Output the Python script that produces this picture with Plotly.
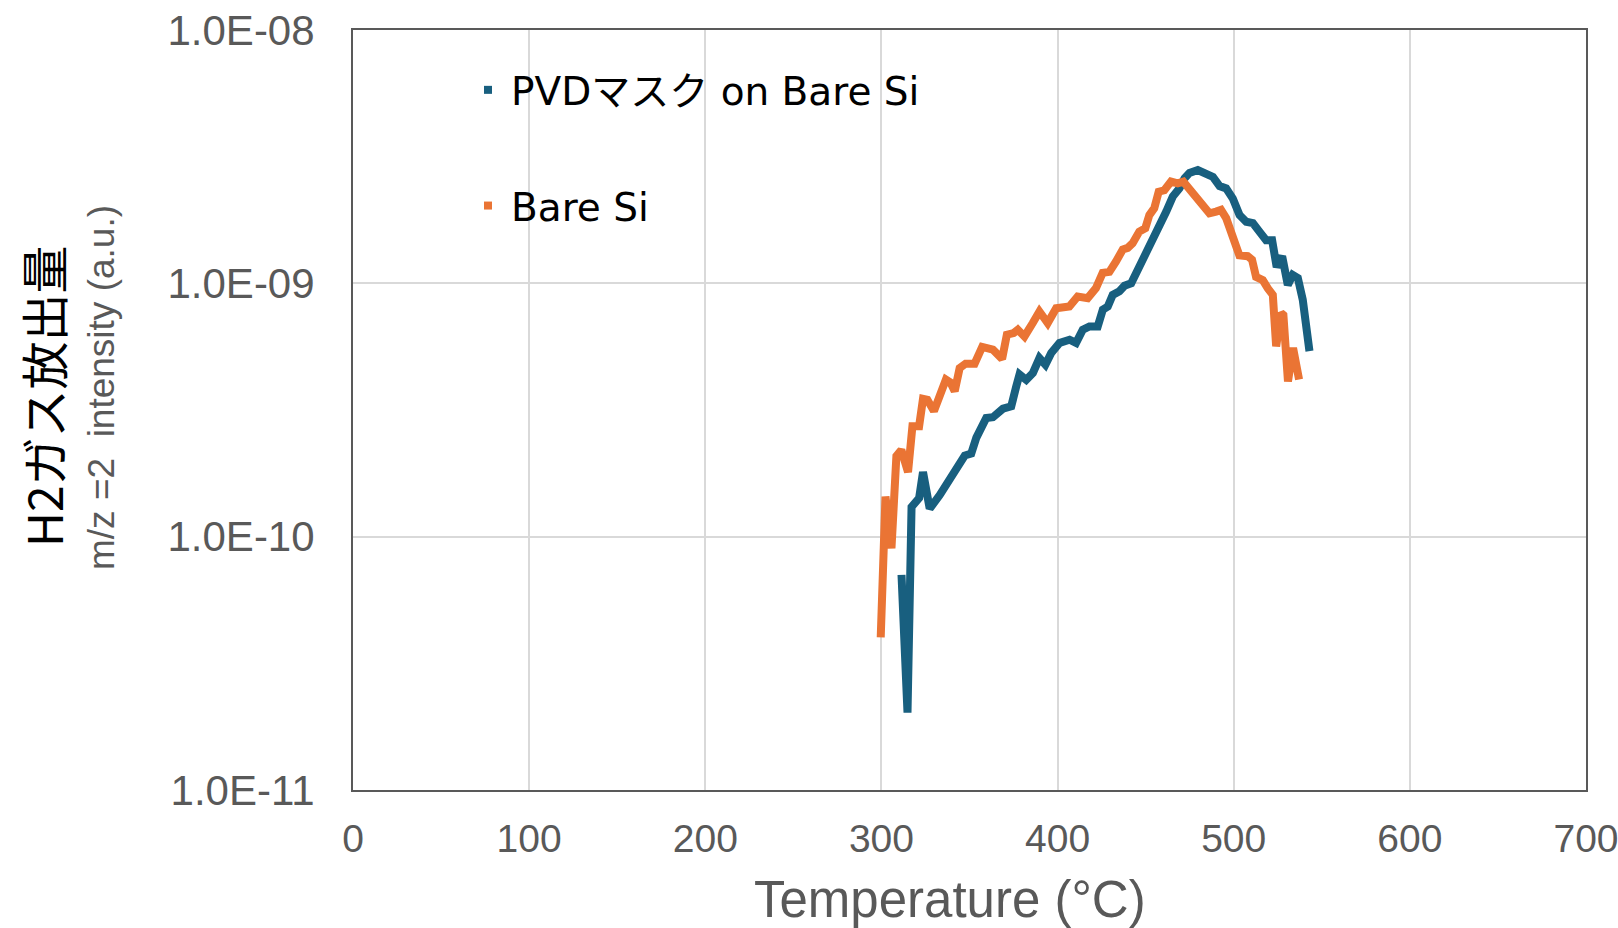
import plotly.graph_objects as go

# ---- data ----
pvd_temp = [311.4, 314.8, 317.1, 321.4, 323.6, 327.4, 333.1, 342.5, 347.3, 351.0, 353.9, 359.5,
            363.3, 369.0, 373.7, 376.6, 378.4, 382.2, 386.0, 389.7, 393.1, 396.4, 401.1, 406.8,
            410.5, 414.3, 418.1, 422.8, 425.7, 428.5, 431.3, 435.1, 438.0, 441.8, 445.6, 449.3,
            452.2, 455.0, 458.8, 461.7, 465.4, 469.2, 472.1, 474.9, 479.6, 484.4, 488.2, 492.0,
            495.7, 499.5, 503.3, 507.1, 510.9, 514.6, 518.4, 521.8, 524.4, 527.5, 530.7, 533.5,
            536.4, 539.2, 541.1, 543.0]
pvd_h2 = [7.07e-11, 2.02e-11, 1.31e-10, 1.42e-10, 1.80e-10, 1.29e-10, 1.46e-10, 1.86e-10, 2.09e-10,
          2.13e-10, 2.46e-10, 2.94e-10, 2.96e-10, 3.20e-10, 3.27e-10, 3.93e-10, 4.37e-10, 4.16e-10,
          4.43e-10, 5.07e-10, 4.77e-10, 5.31e-10, 5.82e-10, 5.99e-10, 5.82e-10, 6.56e-10, 6.76e-10,
          6.76e-10, 7.87e-10, 8.10e-10, 9.00e-10, 9.30e-10, 9.78e-10, 1.00e-9, 1.13e-9, 1.26e-9,
          1.40e-9, 1.55e-9, 1.70e-9, 1.92e-9, 2.20e-9, 2.37e-9, 2.60e-9, 2.73e-9, 2.80e-9, 2.73e-9,
          2.63e-9, 2.42e-9, 2.37e-9, 2.16e-9, 1.86e-9, 1.75e-9, 1.73e-9, 1.60e-9, 1.48e-9, 1.48e-9,
          1.16e-9, 1.28e-9, 9.86e-10, 1.08e-9, 1.05e-9, 8.61e-10, 6.97e-10, 5.40e-10]

bare_temp = [299.6, 302.3, 305.7, 308.5, 311.3, 315.1, 317.6, 321.4, 323.6, 326.1, 329.8, 333.2,
             336.6, 339.2, 341.6, 344.4, 347.8, 352.9, 357.2, 363.3, 368.5, 371.2, 375.0, 377.4,
             381.2, 385.9, 389.7, 394.4, 399.2, 406.7, 411.4, 417.1, 421.8, 425.6, 429.4, 433.2,
             437.0, 439.8, 442.6, 446.4, 449.8, 452.1, 454.9, 457.4, 460.6, 464.4, 468.2, 471.4,
             474.8, 477.7, 481.5, 486.2, 490.0, 492.8, 495.7, 499.4, 503.2, 507.9, 510.4, 512.7,
             516.5, 519.3, 522.2, 524.1, 526.9, 528.2, 530.8, 533.7, 537.1]
bare_h2 = [4.0e-11, 1.44e-10, 9.0e-11, 2.08e-10, 2.20e-10, 1.80e-10, 2.73e-10, 2.73e-10, 3.50e-10,
           3.47e-10, 3.13e-10, 3.70e-10, 4.17e-10, 4.06e-10, 3.75e-10, 4.63e-10, 4.82e-10, 4.82e-10,
           5.61e-10, 5.47e-10, 5.03e-10, 6.27e-10, 6.36e-10, 6.56e-10, 6.17e-10, 6.97e-10, 7.74e-10,
           6.97e-10, 7.98e-10, 8.10e-10, 8.87e-10, 8.74e-10, 9.57e-10, 1.10e-9, 1.11e-9, 1.22e-9,
           1.36e-9, 1.38e-9, 1.44e-9, 1.60e-9, 1.65e-9, 1.86e-9, 1.98e-9, 2.30e-9, 2.33e-9, 2.52e-9,
           2.48e-9, 2.52e-9, 2.37e-9, 2.23e-9, 2.10e-9, 1.89e-9, 1.92e-9, 1.95e-9, 1.81e-9, 1.51e-9,
           1.29e-9, 1.28e-9, 1.24e-9, 1.06e-9, 1.03e-9, 9.57e-10, 9.00e-10, 5.64e-10, 7.63e-10,
           7.50e-10, 4.10e-10, 5.56e-10, 4.17e-10]

series_names = ["PVDマスク on Bare Si", "Bare Si"]
series_colors = ["#185F7F", "#EA7434"]

x_ticks = [0, 100, 200, 300, 400, 500, 600, 700]
y_ticks = [1e-11, 1e-10, 1e-9, 1e-8]
y_ticktext = ["1.0E-11", "1.0E-10", "1.0E-09", "1.0E-08"]

x_title = "Temperature (°C)"
y_title = "H2ガス放出量"
y_subtitle = "m/z =2\u00a0\u00a0intensity (a.u.)"

GRAY = "#595959"
YTICKFONT = dict(family="Liberation Sans, Arial, sans-serif", size=42, color=GRAY)
XTICKFONT = dict(family="Liberation Sans, Arial, sans-serif", size=39, color=GRAY)

fig = go.Figure()

# data lines
for xs, ys, name, col in [(pvd_temp, pvd_h2, series_names[0], series_colors[0]),
                          (bare_temp, bare_h2, series_names[1], series_colors[1])]:
    fig.add_trace(go.Scatter(x=xs, y=ys, mode="lines", name=name, showlegend=False,
                             line=dict(color=col, width=8)))

# legend entries (small key as in the reference)
for i, (name, col) in enumerate(zip(series_names, series_colors)):
    fig.add_trace(go.Scatter(x=[None], y=[None], mode="markers", name=name,
                             legendgroup=f"g{i}",
                             marker=dict(symbol="square", size=8, color=col,
                                         line=dict(width=0))))

W, H = 1618, 928
L, R, T, B = 353, 32, 30, 138
pw = W - L - R
ph = H - T - B

def px(xp):
    return (xp - L) / pw

def py(yp):
    return 1 - (yp - T) / ph

fig.update_layout(
    width=W, height=H,
    margin=dict(l=L, r=R, t=T, b=B, pad=0, autoexpand=False),
    paper_bgcolor="white", plot_bgcolor="white",
    font=dict(family="Liberation Sans, Arial, sans-serif", color=GRAY),
    legend=dict(
        x=px(465), y=py(58), xanchor="left", yanchor="top",
        bgcolor="rgba(0,0,0,0)", borderwidth=0,
        traceorder="grouped", tracegroupgap=62,
        font=dict(family="DejaVu Sans, Noto Sans CJK JP, sans-serif", size=39, color="black"),
        itemwidth=36,
    ),
    xaxis=dict(
        range=[0, 700], tickvals=x_ticks, showgrid=True, gridcolor="#d9d9d9", gridwidth=2,
        showline=True, linecolor=GRAY, linewidth=2, mirror=True, ticks="",
        tickfont=XTICKFONT, ticklabelstandoff=13, ticklabeloverflow="allow", zeroline=False,
        automargin=False,
    ),
    yaxis=dict(
        type="log", range=[-11, -8], tickvals=y_ticks, ticktext=y_ticktext,
        showgrid=True, gridcolor="#d9d9d9", gridwidth=2,
        showline=True, linecolor=GRAY, linewidth=2, mirror=True, ticks="",
        tickfont=YTICKFONT, ticklabelstandoff=28, ticklabeloverflow="allow", zeroline=False,
        automargin=False,
    ),
    shapes=[
        dict(type="rect", xref="paper", yref="paper", layer="between",
             x0=px(440), x1=px(870), y0=py(272), y1=py(32),
             fillcolor="white", line=dict(width=0)),
        dict(type="rect", xref="paper", yref="paper", layer="between",
             x0=px(870), x1=px(905), y0=py(126), y1=py(53),
             fillcolor="white", line=dict(width=0)),
    ],
    annotations=[
        dict(text=x_title, xref="paper", yref="paper", x=px(950), y=0, yshift=-109,
             xanchor="center", yanchor="middle", showarrow=False,
             font=dict(family="Liberation Sans, Arial, sans-serif", size=51, color=GRAY)),
        dict(text=y_title, xref="paper", yref="paper", x=px(42), y=py(396), textangle=-90,
             xanchor="center", yanchor="middle", showarrow=False,
             font=dict(family="Noto Sans CJK JP, sans-serif", size=48, color="black")),
        dict(text=y_subtitle, xref="paper", yref="paper", x=px(101), y=py(388), textangle=-90,
             xanchor="center", yanchor="middle", showarrow=False,
             font=dict(family="Liberation Sans, Arial, sans-serif", size=37, color=GRAY)),
    ],
)

fig.write_html("out.html")
